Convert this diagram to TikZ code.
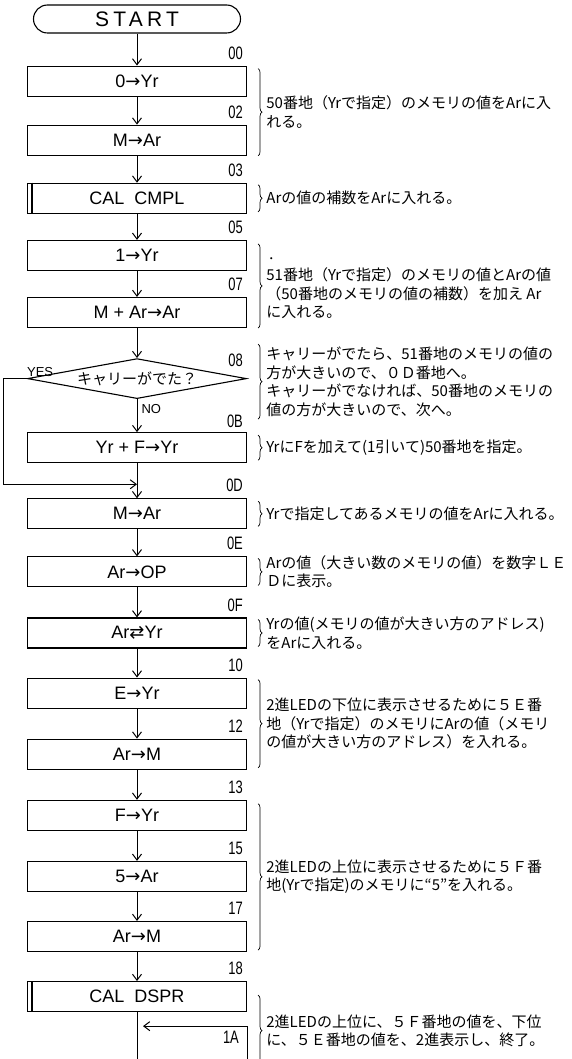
\documentclass[tikz,border=0pt]{standalone}
\usepackage{fontspec}
\usepackage{tikz}
\usetikzlibrary{arrows.meta,positioning,shapes.geometric,decorations.pathreplacing}
\newfontfamily\jpfont{Noto Sans CJK JP}
\newfontfamily\lblfont{Liberation Sans}
\newfontfamily\addrfont[FakeStretch=0.72]{Liberation Sans}
\newfontfamily\symfont{DejaVu Sans}
\newcommand{\rarr}{{\symfont →}}
\newcommand{\xarr}{{\symfont ⇄}}

\begin{document}
\begin{tikzpicture}[x=1pt,y=-1pt,
    node distance=28pt,
    stepbox/.style={rectangle,draw,line width=1.1pt,minimum width=219pt,minimum height=30pt,
      inner sep=0pt,font=\lblfont\fontsize{18}{20}\selectfont},
    terminal/.style={rectangle,rounded corners=14pt,draw,line width=1.1pt,minimum width=207pt,
      minimum height=28pt,font=\lblfont\fontsize{21}{22}\selectfont\addfontfeature{LetterSpace=20}},
    decision/.style={diamond,draw,line width=1.1pt,minimum width=219pt,minimum height=40pt,
      inner sep=0pt,font=\jpfont\fontsize{15}{16}\selectfont},
    addr/.style={font=\addrfont\fontsize{18}{18}\selectfont,inner sep=0pt},
    yn/.style={font=\lblfont\fontsize{13}{13}\selectfont,inner sep=0pt},
    note/.style={font=\jpfont\fontsize{15}{18.5}\selectfont,align=left,inner sep=0pt},
    sidebrace/.style={decorate,decoration={brace,amplitude=4pt},line width=0.7pt},
    arrow/.style={-{Straight Barb[length=6pt,width=9pt]},line width=1pt}
  ]
    \useasboundingbox (0,0) rectangle (571,1059);

    \node[terminal] (start) at (137,19) {START};
    \node[stepbox,below=32pt of start] (yr0) {0\rarr Yr};
    \node[stepbox,below=28pt of yr0] (mar1) {M\rarr Ar};
    \node[stepbox,below=27pt of mar1] (cmpl) {CAL\ \ CMPL};
    \node[stepbox,below=26pt of cmpl] (yr1) {1\rarr Yr};
    \node[stepbox,below=26pt of yr1] (add) {M + Ar\rarr Ar};
    \node[decision,below=30pt of add] (carry) {\makebox[0pt]{キャリーがでた？}};
    \node[stepbox,below=33pt of carry] (yrf) {Yr + F\rarr Yr};
    \node[stepbox,below=35pt of yrf] (mar2) {M\rarr Ar};
    \node[stepbox,below=27pt of mar2] (out) {Ar\rarr OP};
    \node[stepbox,below=30pt of out] (xch) {Ar\xarr Yr};
    \node[stepbox,below=29pt of xch] (yre) {E\rarr Yr};
    \node[stepbox,below=30pt of yre] (mlo) {Ar\rarr M};
    \node[stepbox,below=30pt of mlo] (yrff) {F\rarr Yr};
    \node[stepbox,below=30pt of yrff] (five) {5\rarr Ar};
    \node[stepbox,below=29pt of five] (mhi) {Ar\rarr M};
    \node[stepbox,below=29pt of mhi] (dspr) {CAL\ \ DSPR};

    % subroutine boxes
    \draw[line width=1.1pt] ([xshift=5pt]cmpl.north west) -- ([xshift=5pt]cmpl.south west);
    \draw[line width=1.1pt] ([xshift=5pt]dspr.north west) -- ([xshift=5pt]dspr.south west);

    % addresses
    \node[addr,above left=6pt and 4pt of yr0.north east] (a00) {00};
    \node[addr,above left=6pt and 4pt of mar1.north east] (a02) {02};
    \node[addr,above left=6pt and 4pt of cmpl.north east] (a03) {03};
    \node[addr,above left=6pt and 4pt of yr1.north east] (a05) {05};
    \node[addr,above left=6pt and 4pt of add.north east] (a07) {07};
    \node[addr,above left=12pt and 4pt of carry.east] (a08) {08};
    \node[addr,above left=4pt and 4pt of yrf.north east] (a0b) {0B};
    \node[addr,above left=6pt and 4pt of mar2.north east] (a0d) {0D};
    \node[addr,above left=6pt and 4pt of out.north east] (a0e) {0E};
    \node[addr,above left=6pt and 4pt of xch.north east] (a0f) {0F};
    \node[addr,above left=6pt and 4pt of yre.north east] (a10) {10};
    \node[addr,above left=6pt and 4pt of mlo.north east] (a12) {12};
    \node[addr,above left=6pt and 4pt of yrff.north east] (a13) {13};
    \node[addr,above left=6pt and 4pt of five.north east] (a15) {15};
    \node[addr,above left=6pt and 4pt of mhi.north east] (a17) {17};
    \node[addr,above left=6pt and 4pt of dspr.north east] (a18) {18};

    % flow
    \draw[arrow] (start) -- (yr0);
    \draw[arrow] (yr0) -- (mar1);
    \draw[arrow] (mar1) -- (cmpl);
    \draw[arrow] (cmpl) -- (yr1);
    \draw[arrow] (yr1) -- (add);
    \draw[arrow] (add) -- (carry);
    \draw[arrow] (carry) -- node[yn,pos=0.3,right=4pt] (no) {NO} (yrf);
    \draw[arrow] (yrf) -- (mar2);
    \coordinate (merge) at ([yshift=14pt]mar2.north);
    \node[yn,above right=2pt and 0pt of carry.west] (yes) {YES};
    \draw[arrow] (carry.west) -- ++(-23,0) |- (merge);
    \draw[arrow] (mar2) -- (out);
    \draw[arrow] (out) -- (xch);
    \draw[arrow] (xch) -- (yre);
    \draw[arrow] (yre) -- (mlo);
    \draw[arrow] (mlo) -- (yrff);
    \draw[arrow] (yrff) -- (five);
    \draw[arrow] (five) -- (mhi);
    \draw[arrow] (mhi) -- (dspr);

    % loop at 1A
    \coordinate (pagebot) at (0,1059);
    \coordinate (exit) at (dspr.south |- pagebot);
    \coordinate (back) at ([yshift=-14pt,xshift=6pt]dspr.south);
    \coordinate (turn) at (dspr.east |- back);
    \coordinate (loopend) at (dspr.east |- pagebot);
    \draw[line width=1pt] (dspr) -- (exit);
    \draw[arrow] (loopend) |- (back);
    \node[addr,below left=5pt and 8pt of turn] (a1a) {1A};

    % comments
    \draw[sidebrace] ([xshift=11pt,yshift=-3pt]yr0.north east) -- ([xshift=11pt]mar1.south east)
      node[note,midway,right=8pt] (n1) {50番地（Yrで指定）のメモリの値をArに入\\れる。};
    \draw[sidebrace] ([xshift=11pt,yshift=-2pt]cmpl.north east) -- ([xshift=11pt,yshift=2pt]cmpl.south east)
      node[note,midway,right=8pt] (n2) {Arの値の補数をArに入れる。};
    \draw[sidebrace] ([xshift=11pt,yshift=-4pt]yr1.north east) -- ([xshift=11pt]add.south east)
      node[note,midway,right=8pt,yshift=-2pt] (n3) {{\fontsize{10}{10}\selectfont ・}\\51番地（Yrで指定）のメモリの値とArの値\\（50番地のメモリの値の補数）を加え Ar\\に入れる。};
    \draw[sidebrace] ([xshift=11pt,yshift=-16pt]add.south east) -- ([xshift=11pt,yshift=13pt]yrf.north east)
      node[note,midway,right=8pt] (n4) {キャリーがでたら、51番地のメモリの値の\\方が大きいので、０Ｄ番地へ。\\キャリーがでなければ、50番地のメモリの\\値の方が大きいので、次へ。};
    \draw[sidebrace] ([xshift=11pt,yshift=-3pt]yrf.north east) -- ([xshift=11pt,yshift=3pt]yrf.south east)
      node[note,midway,right=8pt] (n5) {YrにFを加えて(1引いて)50番地を指定。};
    \draw[sidebrace] ([xshift=11pt,yshift=-3pt]mar2.north east) -- ([xshift=11pt,yshift=3pt]mar2.south east)
      node[note,midway,right=8pt] (n6) {Yrで指定してあるメモリの値をArに入れる。};
    \draw[sidebrace] ([xshift=11pt,yshift=-2pt]out.north east) -- ([xshift=11pt,yshift=2pt]out.south east)
      node[note,midway,right=8pt] (n7) {Arの値（大きい数のメモリの値）を数字ＬＥ\\Ｄに表示。};
    \draw[sidebrace] ([xshift=11pt,yshift=-2pt]xch.north east) -- ([xshift=11pt,yshift=2pt]xch.south east)
      node[note,midway,right=8pt] (n8) {Yrの値(メモリの値が大きい方のアドレス)\\をArに入れる。};
    \draw[sidebrace] ([xshift=11pt,yshift=-2pt]yre.north east) -- ([xshift=11pt,yshift=2pt]mlo.south east)
      node[note,midway,right=8pt] (n9) {2進LEDの下位に表示させるために５Ｅ番\\地（Yrで指定）のメモリにArの値（メモリ\\の値が大きい方のアドレス）を入れる。};
    \draw[sidebrace] ([xshift=11pt,yshift=-4pt]yrff.north east) -- ([xshift=11pt,yshift=2pt]mhi.south east)
      node[note,midway,right=8pt] (n10) {2進LEDの上位に表示させるために５Ｆ番\\地(Yrで指定)のメモリに“5”を入れる。};
    \draw[sidebrace] ([xshift=11pt,yshift=-14pt]dspr.north east) -- ([xshift=11pt,yshift=-40pt]turn)
      node[note,midway,right=8pt] (n11) {2進LEDの上位に、５Ｆ番地の値を、下位\\に、５Ｅ番地の値を、2進表示し、終了。};
  \end{tikzpicture}
\end{document}
